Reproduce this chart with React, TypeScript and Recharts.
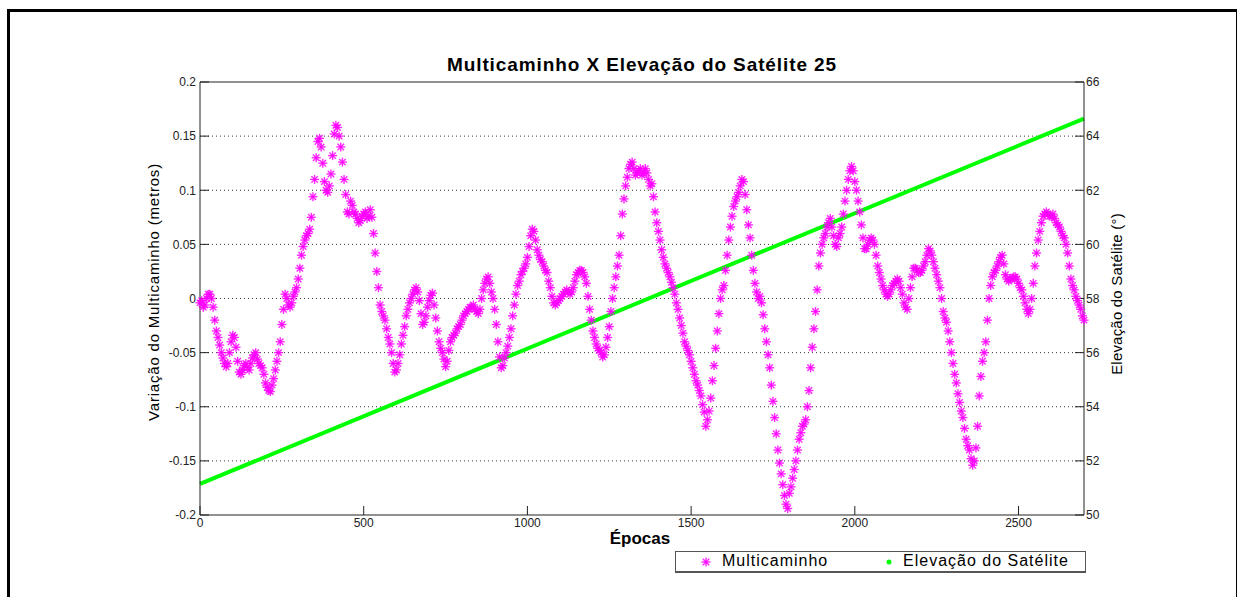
import {
  ComposedChart,
  Scatter,
  Line,
  XAxis,
  YAxis,
  CartesianGrid,
} from "recharts";

// Multipath variation (metres) at epochs 0, 10, 20, ... 2700
const EPOCH_STEP = 10;
const MULTIPATH = [
  -0.004, -0.008, 0.0, 0.004, -0.008, -0.03, -0.043, -0.055, -0.063, -0.05,
  -0.034, -0.045, -0.068, -0.066, -0.06, -0.066, -0.055, -0.05, -0.06, -0.064,
  -0.078, -0.085, -0.08, -0.066, -0.05, -0.024, 0.004, -0.006, -0.004, 0.006,
  0.018, 0.04, 0.054, 0.06, 0.075, 0.11, 0.145, 0.14, 0.108, 0.098,
  0.115, 0.152, 0.158, 0.14, 0.11, 0.08, 0.09, 0.08, 0.074, 0.072,
  0.078, 0.074, 0.082, 0.06, 0.025, -0.006, -0.016, -0.028, -0.042, -0.06,
  -0.066, -0.052, -0.034, -0.016, -0.004, 0.004, 0.01, -0.002, -0.024, -0.016,
  -0.002, 0.005, -0.018, -0.04, -0.05, -0.063, -0.048, -0.036, -0.032, -0.026,
  -0.02, -0.014, -0.01, -0.008, -0.01, -0.014, 0.0, 0.014, 0.02, 0.006,
  -0.01, -0.04, -0.064, -0.055, -0.044, -0.028, -0.006, 0.012, 0.022, 0.028,
  0.038, 0.058, 0.062, 0.045, 0.036, 0.03, 0.024, 0.01, -0.004, -0.004,
  0.0, 0.004, 0.008, 0.004, 0.01, 0.022, 0.026, 0.024, 0.014, -0.01,
  -0.03, -0.042, -0.048, -0.054, -0.045, -0.026, 0.0, 0.02, 0.04, 0.078,
  0.104, 0.12, 0.126, 0.114, 0.118, 0.114, 0.12, 0.11, 0.106, 0.08,
  0.062, 0.045, 0.032, 0.024, 0.015, 0.004, -0.01, -0.025, -0.04, -0.048,
  -0.058, -0.07, -0.08, -0.09, -0.105, -0.112, -0.092, -0.062, -0.03, 0.0,
  0.012, 0.04, 0.066, 0.085, 0.094, 0.104, 0.108, 0.082, 0.056, 0.026,
  0.006, 0.002, -0.015, -0.04, -0.064, -0.095, -0.125, -0.152, -0.172, -0.19,
  -0.18, -0.166, -0.15, -0.13, -0.118, -0.112, -0.085, -0.045, -0.012, 0.03,
  0.05, 0.06, 0.07, 0.066, 0.05, 0.056, 0.066, 0.09, 0.11, 0.122,
  0.108, 0.09, 0.068, 0.046, 0.05, 0.056, 0.05, 0.03, 0.018, 0.008,
  0.002, 0.008, 0.014, 0.018, 0.01, -0.004, -0.01, 0.01, 0.028, 0.026,
  0.024, 0.03, 0.04, 0.044, 0.034, 0.022, 0.01, -0.012, -0.022, -0.04,
  -0.06, -0.078, -0.096, -0.11, -0.13, -0.14, -0.154, -0.138, -0.09, -0.058,
  -0.04, 0.0, 0.02, 0.026, 0.034, 0.04, 0.022, 0.016, 0.018, 0.02,
  0.014, 0.008, -0.004, -0.014, 0.0, 0.03, 0.054, 0.07, 0.078, 0.078,
  0.076, 0.074, 0.068, 0.062, 0.056, 0.042, 0.018, 0.008, -0.002, -0.01,
  -0.02,
];

// Multipath variation (metres) at the in-between epochs 5, 15, 25, ... 2695
const MULTIPATH_MID = [
  -0.002, -0.006, 0.004, 0.0, -0.02, -0.036, -0.05, -0.06, -0.06, -0.04,
  -0.036, -0.058, -0.07, -0.062, -0.064, -0.06, -0.052, -0.056, -0.062, -0.07,
  -0.082, -0.086, -0.074, -0.058, -0.04, -0.01, 0.0, -0.008, 0.002, 0.01,
  0.028, 0.048, 0.058, 0.064, 0.094, 0.13, 0.148, 0.125, 0.1, 0.104,
  0.132, 0.16, 0.15, 0.126, 0.096, 0.078, 0.086, 0.078, 0.07, 0.076,
  0.08, 0.076, 0.075, 0.042, 0.01, -0.012, -0.02, -0.036, -0.05, -0.068,
  -0.06, -0.042, -0.026, -0.01, 0.0, 0.008, 0.006, -0.014, -0.022, -0.008,
  0.003, -0.006, -0.03, -0.046, -0.056, -0.058, -0.04, -0.034, -0.028, -0.024,
  -0.016, -0.012, -0.008, -0.006, -0.012, -0.01, 0.008, 0.018, 0.014, 0.0,
  -0.024, -0.054, -0.062, -0.05, -0.036, -0.016, 0.004, 0.016, 0.025, 0.032,
  0.048, 0.064, 0.054, 0.04, 0.034, 0.026, 0.016, 0.002, -0.006, -0.002,
  0.002, 0.006, 0.006, 0.006, 0.016, 0.024, 0.026, 0.02, 0.002, -0.02,
  -0.036, -0.046, -0.05, -0.052, -0.036, -0.012, 0.01, 0.03, 0.058, 0.092,
  0.112, 0.124, 0.12, 0.116, 0.12, 0.116, 0.116, 0.104, 0.094, 0.07,
  0.054, 0.038, 0.028, 0.02, 0.01, -0.004, -0.018, -0.032, -0.044, -0.052,
  -0.064, -0.076, -0.085, -0.098, -0.118, -0.104, -0.076, -0.046, -0.014, 0.008,
  0.026, 0.054, 0.076, 0.09, 0.098, 0.11, 0.096, 0.068, 0.04, 0.014,
  0.0, -0.004, -0.028, -0.052, -0.08, -0.11, -0.14, -0.162, -0.182, -0.194,
  -0.174, -0.158, -0.14, -0.124, -0.116, -0.1, -0.064, -0.028, 0.008, 0.042,
  0.056, 0.066, 0.074, 0.058, 0.048, 0.06, 0.078, 0.1, 0.118, 0.118,
  0.1, 0.08, 0.056, 0.046, 0.054, 0.054, 0.04, 0.024, 0.012, 0.004,
  0.004, 0.012, 0.016, 0.016, 0.004, -0.008, 0.0, 0.02, 0.028, 0.024,
  0.026, 0.034, 0.046, 0.04, 0.028, 0.016, 0.0, -0.018, -0.03, -0.05,
  -0.07, -0.088, -0.104, -0.12, -0.136, -0.148, -0.15, -0.118, -0.072, -0.05,
  -0.02, 0.012, 0.024, 0.03, 0.038, 0.032, 0.018, 0.018, 0.02, 0.018,
  0.01, 0.002, -0.01, -0.01, 0.014, 0.042, 0.062, 0.076, 0.08, 0.076,
  0.078, 0.07, 0.066, 0.058, 0.05, 0.03, 0.012, 0.002, -0.006, -0.016,
];

// Satellite elevation (degrees) at the first and last epoch
const ELEV_EPOCHS = [0, 2700];
const ELEV_VALUES = [51.15, 64.65];

const X_TICKS = [0, 500, 1000, 1500, 2000, 2500];
const LEFT_TICKS = [-0.2, -0.15, -0.1, -0.05, 0, 0.05, 0.1, 0.15, 0.2];
const RIGHT_TICKS = [50, 52, 54, 56, 58, 60, 62, 64, 66];
// dotted grid only at the inner ticks, the box edges stay solid
const GRID_VALUES = LEFT_TICKS.slice(1, -1);

const multipathData: { x: number; mp: number }[] = [];
MULTIPATH.forEach((v, i) => {
  multipathData.push({ x: i * EPOCH_STEP, mp: v });
  if (i < MULTIPATH_MID.length) {
    multipathData.push({ x: i * EPOCH_STEP + EPOCH_STEP / 2, mp: MULTIPATH_MID[i] });
  }
});
const elevData = ELEV_EPOCHS.map((e, i) => ({ x: e, elev: ELEV_VALUES[i] }));

const FONT = '"Liberation Sans", Arial, sans-serif';
const MAGENTA = "#ff00ff";
const GREEN = "#00ff00";

// '*' marker: horizontal, vertical and both diagonal strokes
const StarMarker = (props: any) => {
  const { cx, cy } = props;
  if (cx == null || cy == null) return null;
  const r = 4.5;
  const d = 3.2;
  return (
    <g stroke={MAGENTA} strokeWidth={1.4} strokeOpacity={0.85}>
      <line x1={cx - r} y1={cy} x2={cx + r} y2={cy} />
      <line x1={cx} y1={cy - r} x2={cx} y2={cy + r} />
      <line x1={cx - d} y1={cy - d} x2={cx + d} y2={cy + d} />
      <line x1={cx - d} y1={cy + d} x2={cx + d} y2={cy - d} />
    </g>
  );
};

const tickStyle = { fontSize: 12, fill: "#222", fontFamily: FONT };

export default function App() {
  return (
    <div
      style={{
        position: "absolute",
        left: 0,
        top: 0,
        width: 1237,
        height: 597,
        overflow: "hidden",
        background: "#fff",
        fontFamily: FONT,
      }}
    >
      <div
        style={{
          position: "absolute",
          left: 7,
          top: 9,
          width: 1232,
          height: 620,
          border: "3px solid #000",
          boxSizing: "border-box",
        }}
      />
      <ComposedChart
        width={1237}
        height={597}
        margin={{ top: 81, right: 93, bottom: 52, left: 140 }}
        style={{ position: "absolute", left: 0, top: 0 }}
      >
        <CartesianGrid
          vertical={false}
          yAxisId="left"
          stroke="#333"
          strokeDasharray="1 3"
          horizontalValues={GRID_VALUES}
        />
        <XAxis
          dataKey="x"
          type="number"
          domain={[0, 2700]}
          ticks={X_TICKS}
          height={30}
          stroke="#222"
          tickSize={-9}
          tickMargin={12}
          tick={tickStyle}
        />
        <XAxis
          xAxisId="top"
          orientation="top"
          type="number"
          domain={[0, 2700]}
          ticks={X_TICKS}
          height={1}
          stroke="#222"
          tickSize={-9}
          tickFormatter={() => ""}
        />
        <YAxis
          yAxisId="left"
          dataKey="mp"
          type="number"
          domain={[-0.2, 0.2]}
          ticks={LEFT_TICKS}
          width={60}
          stroke="#222"
          tickSize={-9}
          tickMargin={13}
          tick={tickStyle}
          allowDataOverflow
        />
        <YAxis
          yAxisId="right"
          orientation="right"
          type="number"
          domain={[50, 66]}
          ticks={RIGHT_TICKS}
          width={60}
          stroke="#222"
          tickSize={-9}
          tickMargin={11}
          tick={tickStyle}
          allowDataOverflow
        />
        <Scatter
          yAxisId="left"
          data={multipathData}
          dataKey="mp"
          shape={StarMarker}
          isAnimationActive={false}
        />
        <Line
          yAxisId="right"
          data={elevData}
          dataKey="elev"
          stroke={GREEN}
          strokeWidth={4}
          dot={false}
          isAnimationActive={false}
        />
      </ComposedChart>

      <div
        style={{
          position: "absolute",
          left: 0,
          width: 1284,
          top: 54,
          textAlign: "center",
          fontSize: 19,
          letterSpacing: 0.9,
          fontWeight: "bold",
          color: "#000",
        }}
      >
        Multicaminho X Elevação do Satélite 25
      </div>
      <div
        style={{
          position: "absolute",
          left: 0,
          width: 1280,
          top: 529,
          textAlign: "center",
          fontSize: 17,
          fontWeight: "bold",
          color: "#000",
        }}
      >
        Épocas
      </div>
      <div
        style={{
          position: "absolute",
          left: 153,
          top: 292,
          transform: "translate(-50%, -50%) rotate(-90deg)",
          whiteSpace: "nowrap",
          fontSize: 15,
          letterSpacing: 0.8,
          color: "#000",
        }}
      >
        Variação do Multicaminho (metros)
      </div>
      <div
        style={{
          position: "absolute",
          left: 1116,
          top: 294,
          transform: "translate(-50%, -50%) rotate(-90deg)",
          whiteSpace: "nowrap",
          fontSize: 15,
          letterSpacing: 0.2,
          color: "#000",
        }}
      >
        Elevação do Satélite (°)
      </div>

      <div
        style={{
          position: "absolute",
          left: 675,
          top: 551,
          width: 411,
          height: 22,
          border: "1px solid #555",
          borderBottomWidth: 2,
          boxSizing: "border-box",
          background: "#fff",
          fontSize: 16,
          letterSpacing: 1,
          color: "#000",
        }}
      >
        <svg
          width={20}
          height={20}
          style={{ position: "absolute", left: 20, top: 0 }}
        >
          <StarMarker cx={10} cy={10} />
        </svg>
        <span style={{ position: "absolute", left: 46, top: 0 }}>
          Multicaminho
        </span>
        <svg
          width={20}
          height={20}
          style={{ position: "absolute", left: 203, top: 0 }}
        >
          <circle cx={10} cy={10} r={2.5} fill={GREEN} />
        </svg>
        <span style={{ position: "absolute", left: 227, top: 0 }}>
          Elevação do Satélite
        </span>
      </div>
    </div>
  );
}
